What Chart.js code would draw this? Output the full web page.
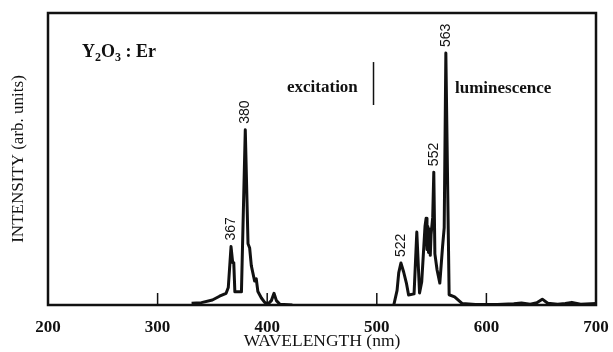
<!DOCTYPE html>
<html>
<head>
<meta charset="utf-8">
<title>Y2O3:Er spectrum</title>
<script src="https://cdn.jsdelivr.net/npm/chart.js@4.4.1/dist/chart.umd.min.js"></script>
<style>
  html, body { margin: 0; padding: 0; background: #fff; }
</style>
</head>
<body>
<canvas id="spectrum" width="613" height="352"></canvas>
<script>
// excitation band (nm, arb. units)
const excitationNm = [331, 340, 350, 356.5, 362.5, 364.5, 367, 368.5, 369.5, 370.5, 376.5, 380,
  382.5, 384, 385.5, 388.5, 390, 391.5, 394.7, 397.7, 400.7, 403.8, 406.2, 408.4, 411.4, 423];
const excitationInt = [0.6, 0.8, 1.7, 3, 4, 6, 20, 14.5, 14.5, 4.5, 4.5, 60,
  21, 19.5, 13.5, 8.2, 9, 4.6, 2.4, 0.9, 0.3, 1.5, 4, 1.5, 0.3, 0];

// luminescence band
const luminescenceNm = [515.5, 518.5, 520, 522, 524.5, 527, 529, 534, 536.5, 539, 541, 544, 545,
  545.8, 546.5, 547.2, 548, 548.8, 549.5, 551, 552, 553, 555, 557.5, 560, 561.5, 563, 566, 571, 578, 590,
  610, 625, 632, 640, 646, 651, 656, 665, 672, 678, 686, 700];
const luminescenceInt = [0, 5, 11, 14.4, 11.3, 7.5, 3.4, 3.8, 25, 4.1, 8, 27, 29.7,
  19, 27, 18, 26, 17, 24, 30, 45.5, 17.5, 12, 7.5, 20, 26.5, 86.3, 3.5, 2.8, 0.5, 0.2,
  0.2, 0.4, 0.7, 0.3, 0.8, 2, 0.6, 0.3, 0.5, 0.9, 0.3, 0.5];

// divider between the two halves
const dividerNm = [497, 497];
const dividerInt = [68.5, 83.2];

// labelled peaks
const peakNm = [367, 380, 522, 552, 563];

const xTicks = [200, 300, 400, 500, 600, 700];

const toPoints = (xs, ys) => xs.map((v, i) => ({ x: v, y: ys[i] }));

function peakHeight(nm) {
  let i = excitationNm.indexOf(nm);
  if (i >= 0) return excitationInt[i];
  i = luminescenceNm.indexOf(nm);
  return luminescenceInt[i];
}

const ink = '#111';
const serif = '"Liberation Serif", "Times New Roman", serif';

const figureText = {
  id: 'figureText',
  afterDatasetsDraw(chart) {
    const { ctx, chartArea: a, scales: { x, y } } = chart;
    ctx.save();
    ctx.strokeStyle = ink;
    ctx.fillStyle = ink;

    // frame
    ctx.lineWidth = 2.5;
    ctx.strokeRect(a.left, a.top, a.right - a.left, a.bottom - a.top);

    // tick marks point into the plot
    ctx.lineWidth = 1.5;
    x.ticks.forEach(t => {
      const px = x.getPixelForValue(t.value);
      ctx.beginPath();
      ctx.moveTo(px, a.bottom);
      ctx.lineTo(px, a.bottom - 12);
      ctx.stroke();
    });

    // peak wavelengths, rotated
    ctx.font = '14px "Liberation Sans", Arial, sans-serif';
    ctx.textAlign = 'left';
    ctx.textBaseline = 'middle';
    peakNm.forEach(nm => {
      const px = x.getPixelForValue(nm);
      const py = y.getPixelForValue(peakHeight(nm));
      ctx.save();
      ctx.translate(px, py - 6);
      ctx.rotate(-Math.PI / 2);
      ctx.fillText(String(nm), 0, 0);
      ctx.restore();
    });

    // sample name Y2O3 : Er
    ctx.textBaseline = 'alphabetic';
    let cx = 82;
    const base = 57;
    const big = 'bold 18px ' + serif, small = 'bold 12px ' + serif;
    [['Y', big, 0], ['2', small, 4], ['O', big, 0], ['3', small, 4], [' : Er', big, 0]].forEach(([s, f, dy]) => {
      ctx.font = f;
      ctx.fillText(s, cx, base + dy);
      cx += ctx.measureText(s).width;
    });

    // region names
    ctx.font = 'bold 17px ' + serif;
    ctx.fillText('excitation', 287, 92);
    ctx.fillText('luminescence', 455, 93);

    ctx.restore();
  }
};

new Chart(document.getElementById('spectrum'), {
  type: 'line',
  data: {
    datasets: [
      { label: 'excitation', data: toPoints(excitationNm, excitationInt) },
      { label: 'luminescence', data: toPoints(luminescenceNm, luminescenceInt) },
      { label: 'divider', data: toPoints(dividerNm, dividerInt), borderWidth: 1.5 }
    ]
  },
  options: {
    responsive: false,
    animation: false,
    layout: { padding: { top: 13, right: 17, left: 0, bottom: 0 } },
    elements: {
      point: { radius: 0 },
      line: { borderColor: ink, borderWidth: 3, tension: 0, borderJoinStyle: 'round', fill: false }
    },
    plugins: { legend: { display: false }, tooltip: { enabled: false } },
    scales: {
      x: {
        type: 'linear',
        min: 200,
        max: 700,
        afterFit: s => { s.height = 47; },
        afterBuildTicks: s => { s.ticks = xTicks.map(v => ({ value: v })); },
        grid: { display: false },
        border: { display: false },
        ticks: { color: ink, padding: 4, maxRotation: 0, font: { family: serif, size: 17, weight: 'bold' } },
        title: {
          display: true,
          text: 'WAVELENGTH (nm)',
          color: ink,
          padding: { top: 0, bottom: 0 },
          font: { family: serif, size: 17.5 }
        }
      },
      y: {
        min: 0,
        max: 100,
        afterFit: s => { s.width = 48; },
        grid: { display: false },
        border: { display: false },
        ticks: { display: false },
        title: {
          display: true,
          text: 'INTENSITY (arb. units)',
          color: ink,
          padding: { top: 8, bottom: 0 },
          font: { family: serif, size: 17 }
        }
      }
    }
  },
  plugins: [figureText]
});
</script>
</body>
</html>
